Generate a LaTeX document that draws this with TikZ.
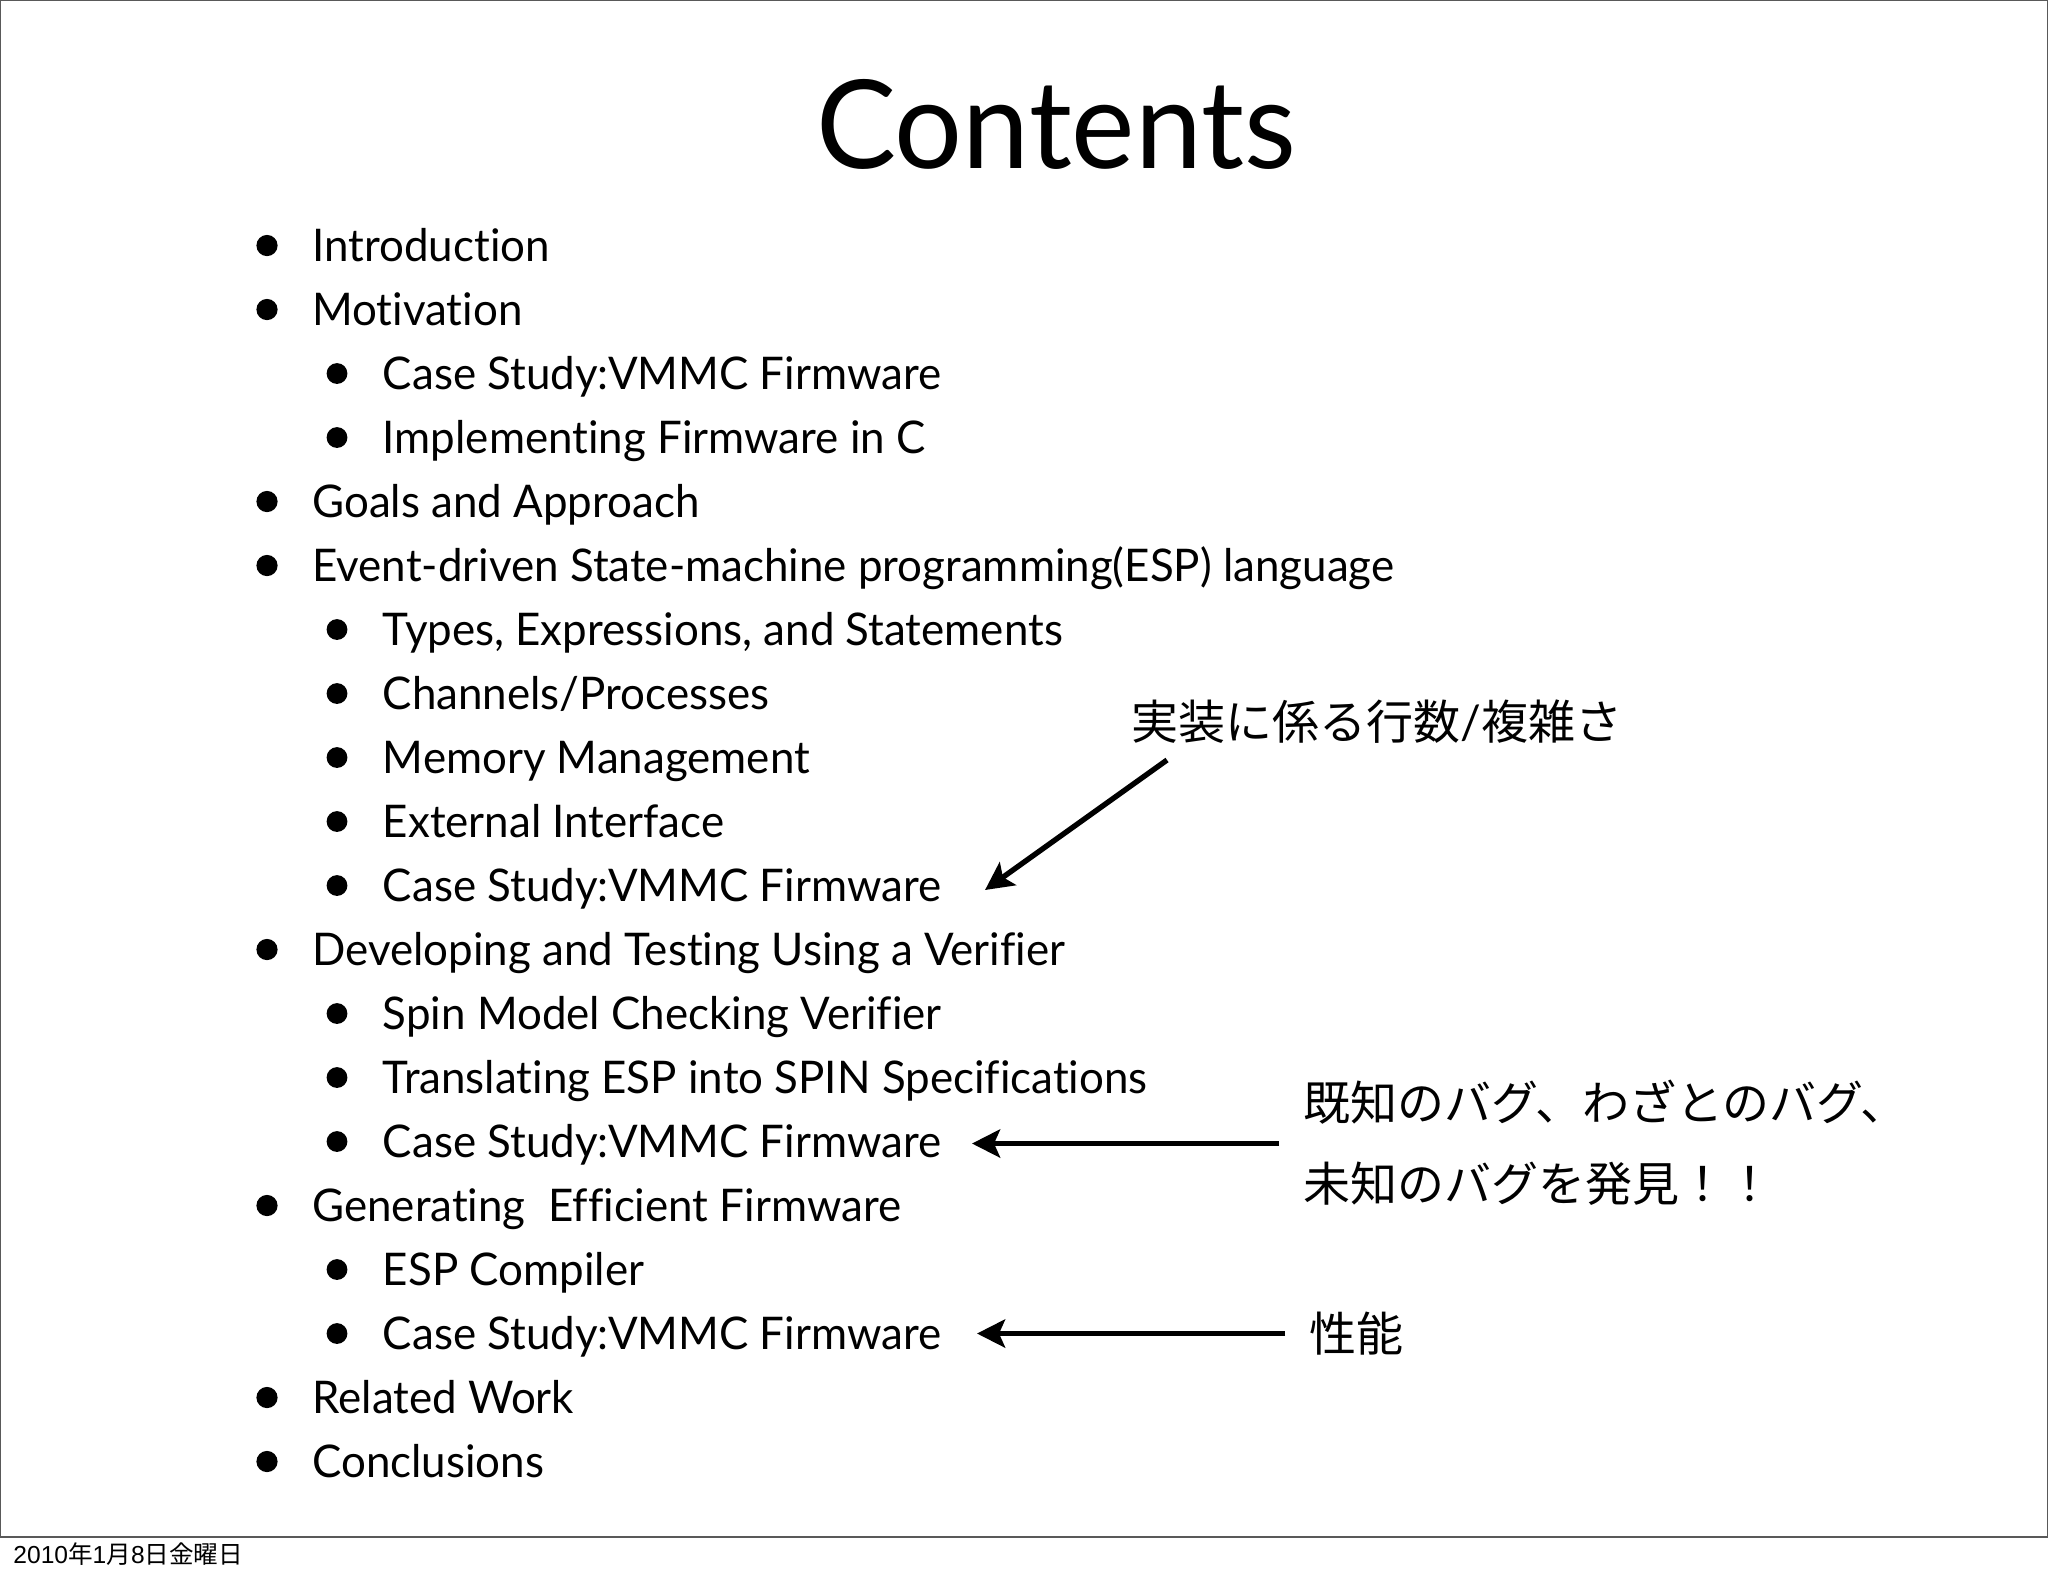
\documentclass[tikz,border=0pt]{standalone}
\usepackage{fontspec}
\setmainfont{Lato}[Ligatures=NoCommon,FakeStretch=0.975]
\newfontfamily\cjk{Noto Sans CJK JP}
\newfontfamily\helv{Liberation Sans}
\usetikzlibrary{arrows.meta}
\tikzset{
  x=0.5pt,y=-0.5pt,
  itemtext/.style={anchor=base west,inner sep=0pt,font=\fontsize{22.5}{26}\selectfont},
  bulletA/.style={circle,fill=black,inner sep=0pt,minimum size=10.6pt},
  bulletB/.style={circle,fill=black,inner sep=0pt,minimum size=10.4pt},
  jp/.style={anchor=base west,inner sep=0pt,font=\fontsize{23.5}{26}\selectfont\cjk},
  pointer/.style={line width=2.7pt,-{Stealth[length=14pt,width=14pt,inset=3pt]}},
}
\newcommand{\lvla}[3]{\node[bulletA] (b#1) at (267,#2-15.5) {};\node[itemtext] (t#1) at (312,#2) {#3};}
\newcommand{\lvlb}[3]{\node[bulletB] (b#1) at (337,#2-15.5) {};\node[itemtext] (t#1) at (382.5,#2) {#3};}
\begin{document}
\begin{tikzpicture}
\useasboundingbox (0,0) rectangle (2048,1576);
\draw[line width=1pt,draw=black!65] (0,0) rectangle (2048,1536.5);
\node[anchor=base,inner sep=0pt,font=\fontsize{61.5}{70}\selectfont] (title) at (1056,168) {Contents};
\lvla{1}{261}{Introduction}
\lvla{2}{325}{Motivation}
\lvlb{3}{389}{Case Study:VMMC Firmware}
\lvlb{4}{453}{Implementing Firmware in C}
\lvla{5}{517}{Goals and Approach}
\lvla{6}{581}{Event-driven State-machine programming(ESP) language}
\lvlb{7}{645}{Types, Expressions, and Statements}
\lvlb{8}{709}{Channels/Processes}
\lvlb{9}{773}{Memory Management}
\lvlb{10}{837}{External Interface}
\lvlb{11}{901}{Case Study:VMMC Firmware}
\lvla{12}{965}{Developing and Testing Using a Verifier}
\lvlb{13}{1029}{Spin Model Checking Verifier}
\lvlb{14}{1093}{Translating ESP into SPIN Specifications}
\lvlb{15}{1157}{Case Study:VMMC Firmware}
\lvla{16}{1221}{Generating\ \ Efficient Firmware}
\lvlb{17}{1285}{ESP Compiler}
\lvlb{18}{1349}{Case Study:VMMC Firmware}
\lvla{19}{1413}{Related Work}
\lvla{20}{1477}{Conclusions}
\node[jp] (n1) at (1131,739) {実装に係る行数{\rmfamily /}複雑さ};
\node[jp] (n2) at (1303,1120) {既知のバグ、わざとのバグ、};
\node[jp] (n3) at (1303,1201) {未知のバグを発見！！};
\node[jp] (n4) at (1309,1351) {性能};
\node[anchor=base west,inner sep=0pt,font=\fontsize{12.3}{14}\selectfont\helv] (date) at (13,1563) {2010{\cjk 年}1{\cjk 月}8{\cjk 日金曜日}};
\coordinate (a1s) at (1167,760);
\coordinate (a1e) at (985,890);
\coordinate (a2s) at (1279,1143.5);
\coordinate (a2e) at (972,1143.5);
\coordinate (a3s) at (1285,1333.5);
\coordinate (a3e) at (977,1333.5);
\draw[pointer] (a1s) -- (a1e);
\draw[pointer] (a2s) -- (a2e);
\draw[pointer] (a3s) -- (a3e);
\end{tikzpicture}
\end{document}
